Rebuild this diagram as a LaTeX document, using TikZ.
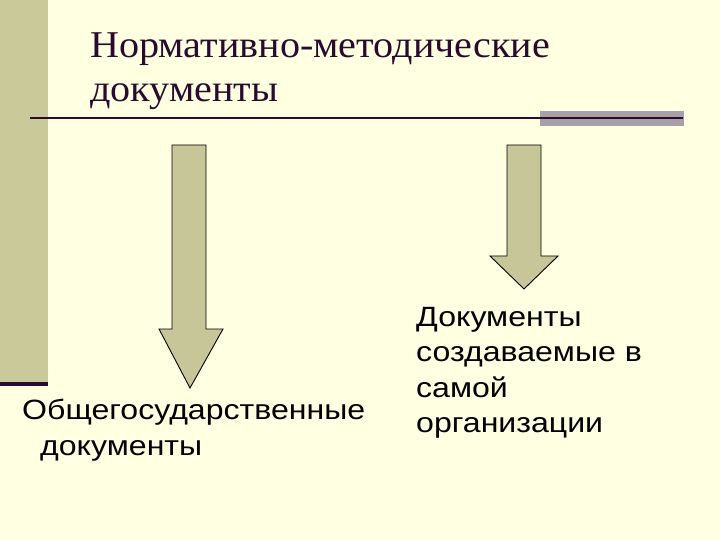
\documentclass[tikz,border=0pt]{standalone}
\usepackage{fontspec}
\setmainfont{Liberation Serif}
\setsansfont{Liberation Sans}
\newfontfamily\headfont[FakeStretch=1.06]{Liberation Serif}
\newfontfamily\labelfont[FakeStretch=1.15]{Liberation Sans}
\usetikzlibrary{positioning}
\definecolor{Cream}{HTML}{FFFFE2}
\definecolor{SideBar}{HTML}{C9C99A}
\definecolor{Plum}{HTML}{2A0A2E}
\definecolor{BarGray}{HTML}{A8A0A8}
\definecolor{ArrowFill}{HTML}{C6C699}

\begin{document}
\begin{tikzpicture}[
    x=1bp, y=-1bp,
    heading/.style={anchor=base west, inner sep=0pt, align=left, text=Plum, font=\headfont\fontsize{38}{45}\selectfont},
    label/.style={anchor=base west, inner sep=0pt, align=left, font=\labelfont\fontsize{28}{36}\selectfont},
    blockarrow/.style={draw=black, fill=ArrowFill, line width=0.9bp, line join=miter}
  ]
    % page and frame decoration
    \fill[Cream] (0,0) rectangle (720,540);
    \useasboundingbox (0,0) rectangle (720,540);
    \fill[SideBar] (0,0) rectangle (48,382);
    \fill[Plum] (0,382) rectangle (48,386);
    \fill[BarGray] (540,111) rectangle (684,126);
    \draw[Plum, line width=2bp] (30,118) -- (683,118);

    % base anchor sits on the last line
    \node[heading] (title) at (90,102) {Нормативно-методические\\документы};

    % the two block arrows
    \draw[blockarrow] (172,145) -- (206,145) -- (206,329) -- (223,329)
      -- (190,388) -- (159,329) -- (172,329) -- cycle;
    \draw[blockarrow] (507,145) -- (541,145) -- (541,256) -- (558,256)
      -- (524,289) -- (490,256) -- (507,256) -- cycle;

    \node[label] (general) at (22,455) {Общегосударственные\\\hspace*{18bp}документы};
    \node[label, font=\labelfont\fontsize{28}{35.5}\selectfont] (internal) at (416,432.5)
      {Документы\\создаваемые в\\самой\\организации};
  \end{tikzpicture}
\end{document}
